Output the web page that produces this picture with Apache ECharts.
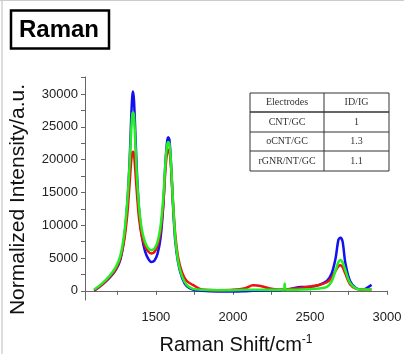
<!DOCTYPE html>
<html>
<head>
<meta charset="utf-8">
<script src="https://cdn.jsdelivr.net/npm/echarts@6/dist/echarts.min.js"></script>
<style>
  html, body { margin: 0; padding: 0; background: #fff; }
  #chart { width: 404px; height: 354px; }
</style>
</head>
<body>
<div id="chart"></div>
<script>
// Raman shift positions (cm-1), shared by all three spectra
const shifts = [1100, 1150, 1200, 1240, 1270, 1295, 1315, 1330, 1340, 1347, 1352, 1358, 1366, 1378, 1392,
  1410, 1430, 1450, 1470, 1490, 1510, 1530, 1548, 1562, 1572, 1580, 1588, 1598, 1610, 1625, 1645,
  1670, 1700, 1740, 1800, 1900, 2000, 2080, 2130, 2180, 2240, 2300, 2330, 2336, 2342, 2380, 2440,
  2500, 2560, 2610, 2640, 2665, 2685, 2698, 2712, 2730, 2760, 2800, 2850, 2880, 2900];

const blueCurve = [0, 900, 2000, 3200, 4800, 8200, 13500, 20000, 26500, 29700, 30400, 29000, 24500, 17500, 12000,
  8200, 6000, 4900, 4400, 4600, 5600, 8000, 13000, 19500, 22600, 23400, 23000, 19500, 13500, 7800, 4200,
  2000, 700, 200, 0, -100, -100, -50, 0, 50, 100, 100, 150, 150, 150, 300, 600,
  600, 900, 1500, 2600, 4800, 7800, 8100, 7500, 4200, 1500, 400, 200, 600, 900];

const redCurve = [100, 900, 2100, 3300, 5000, 7800, 11800, 16500, 19800, 21000, 21200, 20800, 18500, 14500, 10800,
  8200, 6800, 6000, 5700, 5900, 6800, 9000, 13200, 18500, 20900, 21500, 21300, 19000, 14000, 8800, 5000,
  2800, 1500, 900, 200, 100, 150, 400, 850, 750, 350, 200, 200, 200, 200, 300, 450,
  650, 900, 1300, 2000, 3000, 3750, 3900, 3600, 2600, 1000, 300, 200, 200, 200];

const greenCurve = [200, 1100, 2300, 3600, 5400, 8800, 13800, 19500, 24500, 26900, 27200, 26600, 23000, 17000, 12500,
  9200, 7400, 6500, 6200, 6400, 7400, 9800, 14200, 19500, 22100, 22700, 22400, 19500, 14000, 8300, 4400,
  2200, 900, 300, 150, 100, 100, 150, 150, 150, 150, 150, 200, 1100, 200, 150, 200,
  250, 350, 600, 1400, 3000, 4400, 4700, 4300, 3100, 1200, 350, 200, 200, 200];

const xLabels = [1500, 2000, 2500, 3000];
const xTicks = [1250, 1500, 1750, 2000, 2250, 2500, 2750, 3000];
const yLabels = [0, 5000, 10000, 15000, 20000, 25000, 30000];
const yTicks = [0, 2500, 5000, 7500, 10000, 12500, 15000, 17500, 20000, 22500, 25000, 27500, 30000, 32500];

const tableHead = ['Electrodes', 'ID/IG'];
const tableRows = [['CNT/GC', '1'], ['oCNT/GC', '1.3'], ['rGNR/NT/GC', '1.1']];

const sans = 'Liberation Sans, Arial, sans-serif';
const serif = 'Liberation Serif, Times New Roman, serif';

const chart = echarts.init(document.getElementById('chart'));

const pairs = (ys) => shifts.map((x, i) => [x, ys[i]]);

// table drawn as graphic: outer box, header rule, row rules, column divider
const tLeft = 250, tRight = 389, tTop = 93, tColX = 324;
const rowY = [93, 112, 132, 151, 171];
const tableGraphics = [];
tableGraphics.push({
  type: 'rect', shape: { x: tLeft, y: tTop, width: tRight - tLeft, height: rowY[4] - tTop },
  style: { fill: '#fff', stroke: '#333', lineWidth: 1 }, z: 10
});
tableGraphics.push({
  type: 'line', shape: { x1: tColX, y1: tTop, x2: tColX, y2: rowY[4] },
  style: { stroke: '#333', lineWidth: 1 }, z: 11
});
rowY.slice(1, 4).forEach((y, i) => {
  tableGraphics.push({
    type: 'line', shape: { x1: tLeft, y1: y, x2: tRight, y2: y },
    style: { stroke: '#333', lineWidth: i === 0 ? 1.6 : 1 }, z: 11
  });
});
[tableHead].concat(tableRows).forEach((row, r) => {
  const cy = (rowY[r] + rowY[r + 1]) / 2;
  [(tLeft + tColX) / 2, (tColX + tRight) / 2].forEach((cx, c) => {
    tableGraphics.push({
      type: 'text', x: cx, y: cy, z: 12,
      style: { text: row[c], fontFamily: serif, fontSize: 10, fill: '#333', align: 'center', verticalAlign: 'middle' }
    });
  });
});

const options = {
  backgroundColor: '#fff',
  animation: false,
  grid: { left: 85, right: 17, top: 77, bottom: 54, outerBoundsMode: 'none' },
  xAxis: {
    type: 'value',
    min: 1040,
    max: 3000,
    name: '{t|Raman Shift/cm}{s|-1}',
    nameLocation: 'middle',
    nameGap: 34,
    nameTextStyle: {
      rich: {
        t: { fontFamily: sans, fontSize: 20, color: '#111' },
        s: { fontFamily: sans, fontSize: 12, color: '#111', verticalAlign: 'top', padding: [0, 0, 10, 0] }
      }
    },
    axisLine: { lineStyle: { color: '#666', width: 1 } },
    axisTick: { customValues: xTicks, length: 4, lineStyle: { color: '#666' } },
    axisLabel: { customValues: xLabels, formatter: (v) => String(v), fontFamily: sans, fontSize: 13,
      color: '#222', margin: 11 },
    splitLine: { show: false }
  },
  yAxis: {
    type: 'value',
    min: -1400,
    max: 32600,
    name: 'Normalized Intensity/a.u.',
    nameLocation: 'middle',
    nameGap: 56,
    nameTextStyle: { fontFamily: sans, fontSize: 21, color: '#111', padding: [0, 22, 0, 0] },
    axisLine: { show: true, lineStyle: { color: '#666', width: 1 } },
    axisTick: { show: true, customValues: yTicks, length: 4, lineStyle: { color: '#666' } },
    axisLabel: { customValues: yLabels, formatter: (v) => String(v), fontFamily: sans, fontSize: 13,
      color: '#222', margin: 7 },
    splitLine: { show: false }
  },
  series: [
    { name: 'CNT/GC', type: 'line', data: pairs(blueCurve), smooth: 0.3, showSymbol: false,
      lineStyle: { color: '#1010f0', width: 2.5 }, z: 2 },
    { name: 'oCNT/GC', type: 'line', data: pairs(redCurve), smooth: 0.3, showSymbol: false,
      lineStyle: { color: '#f01010', width: 2.5 }, z: 3 },
    { name: 'rGNR/NT/GC', type: 'line', data: pairs(greenCurve), smooth: 0.3, showSymbol: false,
      lineStyle: { color: '#22ee22', width: 2.5 }, z: 4 }
  ],
  graphic: [
    { type: 'line', shape: { x1: 2, y1: 0, x2: 2, y2: 354 }, style: { stroke: '#bbb', lineWidth: 1 } },
    { type: 'line', shape: { x1: 0, y1: 0.5, x2: 404, y2: 0.5 }, style: { stroke: '#ccc', lineWidth: 1 } },
    { type: 'rect', shape: { x: 11, y: 10.5, width: 98, height: 38 },
      style: { fill: '#fff', stroke: '#000', lineWidth: 2.5 } },
    { type: 'text', x: 59, y: 30, style: { text: 'Raman', fontFamily: sans, fontWeight: 'bold', fontSize: 24,
      fill: '#000', align: 'center', verticalAlign: 'middle' } }
  ].concat(tableGraphics)
};

chart.setOption(options);
</script>
</body>
</html>
